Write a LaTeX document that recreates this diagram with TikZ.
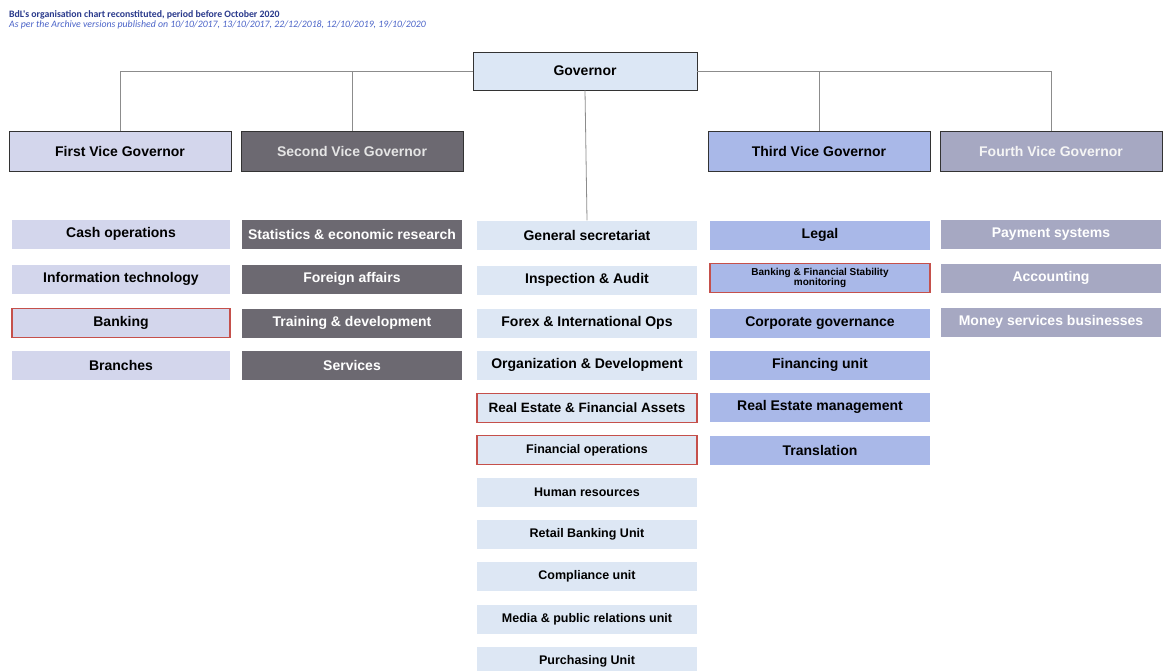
\documentclass[tikz,border=0pt]{standalone}
\usepackage{fontspec}
\setmainfont{Liberation Sans}
\newfontfamily\titlefont{Carlito}
\definecolor{linegray}{HTML}{8C8C8C}
\definecolor{govfill}{HTML}{DCE7F5}
\definecolor{lavfill}{HTML}{D3D6EC}
\definecolor{darkfill}{HTML}{6C6971}
\definecolor{midfill}{HTML}{DDE7F4}
\definecolor{perifill}{HTML}{A9B8E8}
\definecolor{grayfill}{HTML}{A6A8C2}
\definecolor{redline}{HTML}{C5504B}
\definecolor{titleblue}{HTML}{2A3A8C}
\definecolor{subblue}{HTML}{4A63C8}
\tikzset{
  x=1pt, y=-1pt,
  txt/.style={font=\bfseries\fontsize{14}{16}\selectfont, align=center, inner sep=1pt},
  smalltxt/.style={font=\bfseries\fontsize{12.5}{14}\selectfont, align=center, inner sep=1pt},
  unit/.style={txt, minimum width=220pt, minimum height=29pt},
  vgbox/.style={txt, minimum width=222pt, minimum height=40pt, draw=black!80, line width=0.8pt},
  c1/.style={unit, fill=lavfill, text=black},
  c2/.style={unit, fill=darkfill, text=white},
  c3/.style={unit, fill=midfill, text=black},
  c4/.style={unit, fill=perifill, text=black},
  c5/.style={unit, fill=grayfill, text=white},
  redbox/.style={draw=redline, line width=1.6pt},
  conn/.style={draw=linegray, line width=0.8pt}
}
\begin{document}
\begin{tikzpicture}
\useasboundingbox (0,0) rectangle (1164,670);
\fill[white] (0,0) rectangle (1164,670);

% title
\node[anchor=west, inner sep=0pt, font=\titlefont\bfseries\fontsize{9.8}{11}\selectfont, text=titleblue] (t1) at (9,15) {BdL's organisation chart reconstituted, period before October 2020};
\node[anchor=west, inner sep=0pt, font=\titlefont\itshape\fontsize{9.8}{11}\selectfont, text=subblue] (t2) at (9,25) {As per the Archive versions published on 10/10/2017, 13/10/2017, 22/12/2018, 12/10/2019, 19/10/2020};

% governor
\node[txt, fill=govfill, draw=black!80, line width=0.8pt, minimum width=224pt, minimum height=38pt] (gov) at (585,71) {Governor};

% vice governors
\node[vgbox, fill=lavfill] (vg1) at (120,151) {First Vice Governor};
\node[vgbox, fill=darkfill, text=white!90!black] (vg2) at (352,151) {Second Vice Governor};
\node[vgbox, fill=perifill] (vg3) at (819,151) {Third Vice Governor};
\node[vgbox, fill=grayfill, text=white!92!gray] (vg4) at (1051,151) {Fourth Vice Governor};

% column 1
\node[c1, minimum width=218pt] (a1) at (121,234) {Cash operations};
\node[c1, minimum width=218pt] (a2) at (121,279) {Information technology};
\node[c1, minimum width=218pt, redbox] (a3) at (121,323) {Banking};
\node[c1, minimum width=218pt] (a4) at (121,365) {Branches};

% column 2
\node[c2] (b1) at (352,234) {Statistics \& economic research};
\node[c2] (b2) at (352,279) {Foreign affairs};
\node[c2] (b3) at (352,323) {Training \& development};
\node[c2] (b4) at (352,365) {Services};

% column 3 (governor)
\node[c3] (m1) at (587,235) {General secretariat};
\node[c3] (m2) at (587,280) {Inspection \& Audit};
\node[c3] (m3) at (587,323) {Forex \& International Ops};
\node[c3] (m4) at (587,365) {Organization \& Development};
\node[c3, redbox, font=\bfseries\fontsize{13.5}{15}\selectfont] (m5) at (587,408) {Real Estate \& Financial Assets};
\node[c3, redbox, smalltxt] (m6) at (587,450) {Financial operations};
\node[c3, smalltxt] (m7) at (587,492) {Human resources};
\node[c3, smalltxt] (m8) at (587,534) {Retail Banking Unit};
\node[c3, smalltxt] (m9) at (587,576) {Compliance unit};
\node[c3, smalltxt] (m10) at (587,619) {Media \& public relations unit};
\node[c3, smalltxt] (m11) at (587,661) {Purchasing Unit};

% column 4
\node[c4] (d1) at (820,235) {Legal};
\node[c4, redbox, font=\bfseries\fontsize{10}{10.5}\selectfont] (d2) at (820,278) {Banking \& Financial Stability\\monitoring};
\node[c4] (d3) at (820,323) {Corporate governance};
\node[c4] (d4) at (820,365) {Financing unit};
\node[c4] (d5) at (820,407) {Real Estate management};
\node[c4] (d6) at (820,450) {Translation};

% column 5
\node[c5] (e1) at (1051,234) {Payment systems};
\node[c5] (e2) at (1051,278) {Accounting};
\node[c5] (e3) at (1051,322) {Money services businesses};

% connectors
\draw[conn] (gov.west) -| (vg1.north);
\draw[conn] (gov.west) -| (vg2.north);
\draw[conn] (gov.east) -| (vg3.north);
\draw[conn] (gov.east) -| (vg4.north);
\draw[conn] (gov.south) -- (m1.north);
\end{tikzpicture}
\end{document}
